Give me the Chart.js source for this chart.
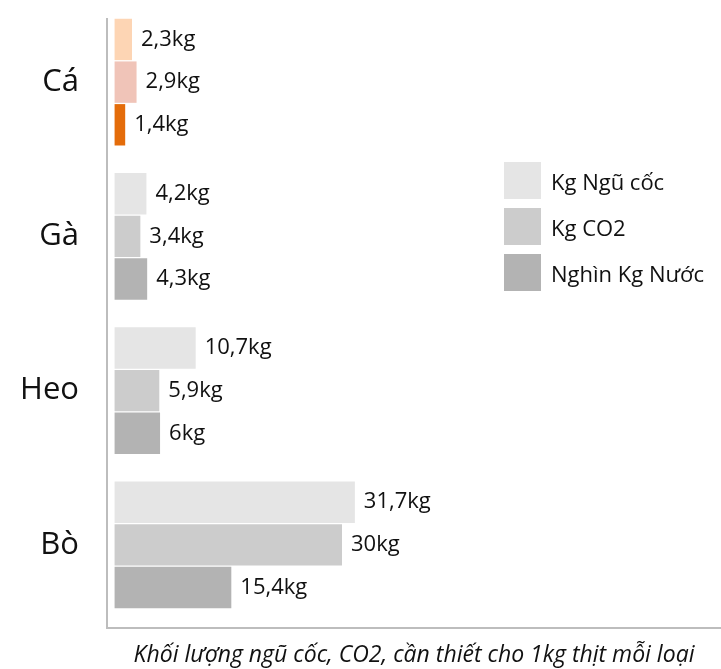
<!DOCTYPE html>
<html>
<head>
<meta charset="utf-8">
<script src="https://cdn.jsdelivr.net/npm/chart.js@4"></script>
<style>
  body { margin: 0; background: #fff; }
  .wrap { position: relative; width: 721px; height: 669px; }
  .legend { position: absolute; left: 504px; top: 162px; font-family: 'Open Sans', sans-serif; font-size: 22px; color: #111; }
  .legend .row { display: flex; align-items: center; height: 37px; margin-bottom: 9px; white-space: nowrap; }
  .legend .box { width: 37px; height: 37px; margin-right: 10px; flex: none; }
</style>
</head>
<body>
<div class="wrap">
  <canvas id="chart" width="721" height="669"></canvas>
  <div class="legend" id="legend"></div>
</div>
<script>
let categories = ['Cá', 'Gà', 'Heo', 'Bò'];
let seriesNames = ['Kg Ngũ cốc', 'Kg CO2', 'Nghìn Kg Nước'];
let grain = [2.3, 4.2, 10.7, 31.7];
let co2 = [2.9, 3.4, 5.9, 30];
let water = [1.4, 4.3, 6, 15.4];
let axisTitle = 'Khối lượng ngũ cốc, CO2, cần thiết cho 1kg thịt mỗi loại';

let greys = ['#e5e5e5', '#cccccc', '#b3b3b3'];
let fishColors = ['#fdd5b4', '#f0c4b8', '#e46c0a'];

let colorsFor = (i) => categories.map((c, j) => j === 0 ? fishColors[i] : greys[i]);

let fmt = (v) => String(v).replace('.', ',') + 'kg';

// labels at the end of each bar
let valueLabels = {
    id: 'valueLabels',
    afterDatasetsDraw(chart) {
        let ctx = chart.ctx;
        ctx.save();
        ctx.font = '22px "Open Sans", sans-serif';
        ctx.fillStyle = '#111';
        ctx.textBaseline = 'middle';
        chart.data.datasets.forEach((ds, i) => {
            chart.getDatasetMeta(i).data.forEach((bar, j) => {
                ctx.fillText(fmt(ds.data[j]), bar.x + 9, bar.y);
            });
        });
        ctx.restore();
    }
};

// axis lines a bit outside the category band
let axisLines = {
    id: 'axisLines',
    beforeDatasetsDraw(chart) {
        let a = chart.chartArea;
        let ctx = chart.ctx;
        ctx.save();
        ctx.strokeStyle = '#bdbdbd';
        ctx.lineWidth = 2;
        ctx.beginPath();
        ctx.moveTo(a.left, a.top + 13);
        ctx.lineTo(a.left, a.bottom + 6);
        ctx.lineTo(a.right, a.bottom + 6);
        ctx.stroke();
        ctx.restore();
    }
};

let datasets = [grain, co2, water].map((d, i) => ({
    label: seriesNames[i],
    data: d,
    backgroundColor: colorsFor(i),
    categoryPercentage: 0.83,
    barPercentage: 0.97
}));

new Chart(document.getElementById('chart'), {
    type: 'bar',
    data: { labels: categories, datasets: datasets },
    plugins: [axisLines, valueLabels],
    options: {
        indexAxis: 'y',
        responsive: false,
        animation: false,
        layout: { padding: { top: 5, right: 0, left: 0, bottom: 0 } },
        plugins: {
            legend: { display: false },
            tooltip: { enabled: false }
        },
        scales: {
            x: {
                min: -1,
                max: 80,
                grid: { display: false },
                border: { display: false },
                ticks: { display: false },
                title: {
                    display: true,
                    text: axisTitle,
                    color: '#111',
                    font: { family: '"Open Sans", sans-serif', size: 23, style: 'italic' },
                    padding: { top: 0, bottom: 0 }
                },
                afterFit: (axis) => { axis.height = 47; }
            },
            y: {
                grid: { display: false },
                border: { display: false },
                ticks: {
                    color: '#111',
                    padding: 20,
                    font: { family: '"Open Sans", sans-serif', size: 31 }
                },
                afterFit: (axis) => {
                    axis.width = 107;
                    axis.paddingTop = 0;
                    axis.paddingBottom = 0;
                }
            }
        }
    }
});

let legend = document.getElementById('legend');
seriesNames.forEach((name, i) => {
    let row = document.createElement('div');
    row.className = 'row';
    let box = document.createElement('div');
    box.className = 'box';
    box.style.background = greys[i];
    let txt = document.createElement('span');
    txt.textContent = name;
    row.append(box, txt);
    legend.append(row);
});
</script>
</body>
</html>
